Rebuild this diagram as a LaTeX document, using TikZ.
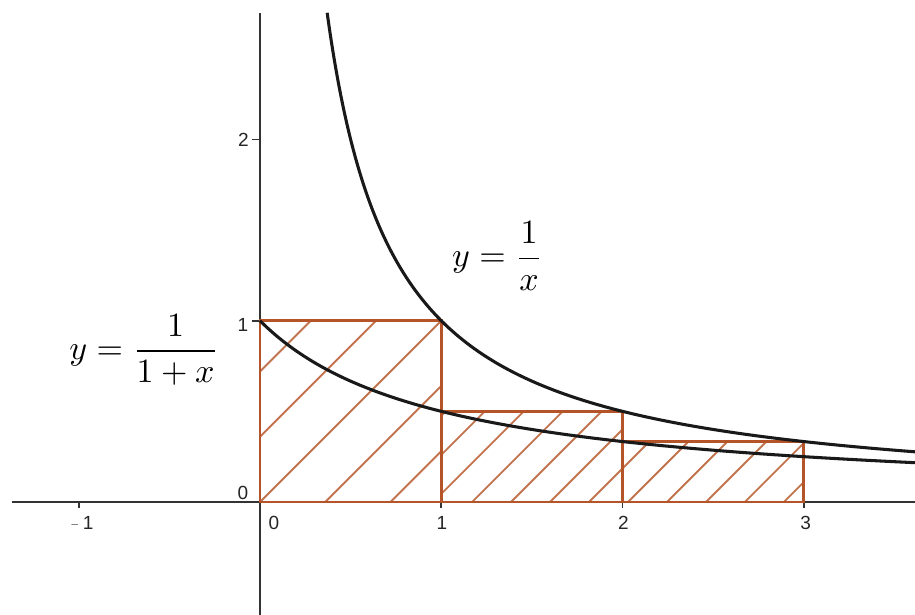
\documentclass[tikz,border=0pt]{standalone}
\usepackage{fontspec}
\newfontfamily\ticksf{Liberation Sans}
\begin{document}
\begin{tikzpicture}[x=1.875cm,y=1.875cm,
  axisline/.style={draw=black!80,line width=0.5pt},
  tickmark/.style={draw=black!80,line width=0.5pt},
  ticklabel/.style={font=\ticksf\fontsize{5.6}{6}\selectfont,text=black!85,inner sep=0pt},
  curve/.style={draw=black!90,line width=0.9pt},
  rectbox/.style={draw=brownline,line width=0.85pt},
  hatchline/.style={draw=brownhatch,line width=0.55pt},
  eqlabel/.style={font=\fontsize{10}{12}\selectfont,inner sep=0pt}]
\definecolor{brownline}{RGB}{180,84,40}
\definecolor{brownhatch}{RGB}{194,116,78}
\useasboundingbox[fill=white] (-1.434,-0.623) rectangle (3.613,2.769);
% axes
\coordinate (xl) at (-1.37,0);
\coordinate (xr) at (3.62,0);
\coordinate (yb) at (0,-0.63);
\coordinate (yt) at (0,2.698);
\draw[axisline] (xl) -- (xr);
\draw[axisline] (yb) -- (yt);
% ticks
\foreach \t in {-1,1,2,3} \draw[tickmark] (\t,0) -- (\t,-0.035);
\foreach \t in {1,2} \draw[tickmark] (0,\t) -- (-0.045,\t);
% tick labels
\node[ticklabel,anchor=east] (lxm1) at (-0.915,-0.113) {{\fontsize{4}{4}\selectfont\color{black!50}−}\hspace{1.2pt}1};
\node[ticklabel] (lx0) at (0.077,-0.113) {0};
\node[ticklabel] (lx1) at (1.004,-0.113) {1};
\node[ticklabel] (lx2) at (2.004,-0.113) {2};
\node[ticklabel] (lx3) at (3.01,-0.113) {3};
\node[ticklabel] (ly0) at (-0.094,0.05) {0};
\node[ticklabel] (ly1) at (-0.094,0.976) {1};
\node[ticklabel] (ly2) at (-0.092,1.997) {2};
% hatching
\begin{scope}
  \clip (0,0) rectangle (1,1);
  \foreach \c in {-0.72,-0.36,0,0.36,0.72}
    \draw[hatchline] (\c-1,-1) -- (\c+2,2);
\end{scope}
\begin{scope}
  \clip (1,0) rectangle (2,0.5);
  \foreach \k in {-3,...,4}
    \draw[hatchline] ({1.17+0.215*\k-1},-1) -- ({1.17+0.215*\k+2},2);
\end{scope}
\begin{scope}
  \clip (2,0) rectangle (3,1/3);
  \foreach \k in {2,...,9}
    \draw[hatchline] ({1.17+0.215*\k-1},-1) -- ({1.17+0.215*\k+2},2);
\end{scope}
% rectangles
\draw[rectbox] (0,0) rectangle (1,1);
\draw[rectbox] (1,0) rectangle (2,0.5);
\draw[rectbox] (2,0) rectangle (3,1/3);
% curves
\draw[curve,domain=0.3706:3.65,samples=300,smooth] plot (\x,{1/\x});
\draw[curve,domain=0:3.65,samples=200,smooth] plot (\x,{1/(1+\x)});
% labels
\node[eqlabel] (eqa) at (1.31,1.357) {$y=\displaystyle\frac{1}{x}$};
\node[eqlabel] (eqb) at (-0.64,0.838) {$y=\displaystyle\frac{1}{1+x}$};
\end{tikzpicture}
\end{document}
